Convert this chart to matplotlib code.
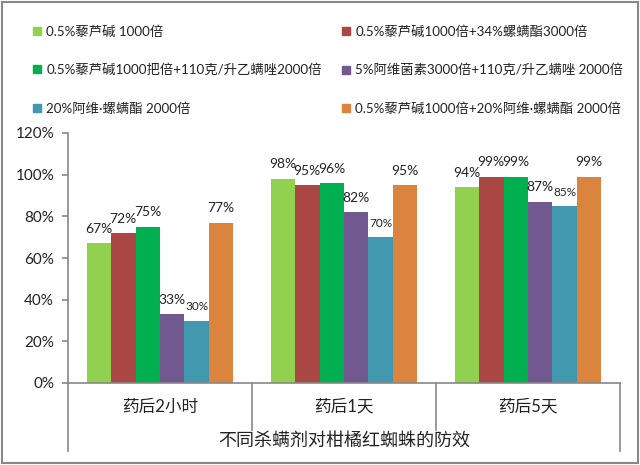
import matplotlib
matplotlib.use("Agg")
import matplotlib.pyplot as plt
from matplotlib.lines import Line2D
import numpy as np

FONTS = ['Lato', 'Noto Sans CJK SC', 'DejaVu Sans']
plt.rcParams['font.family'] = FONTS

categories = ['药后2小时', '药后1天', '药后5天']
series_names = ['0.5%藜芦碱 1000倍',
                '0.5%藜芦碱1000倍+34%螺螨酯3000倍',
                '0.5%藜芦碱1000把倍+110克/升乙螨唑2000倍',
                '5%阿维菌素3000倍+110克/升乙螨唑 2000倍',
                '20%阿维·螺螨酯 2000倍',
                '0.5%藜芦碱1000倍+20%阿维·螺螨酯 2000倍']
s1 = [67, 98, 94]
s2 = [72, 95, 99]
s3 = [75, 96, 99]
s4 = [33, 82, 87]
s5 = [30, 70, 85]
s6 = [77, 95, 99]
series = [s1, s2, s3, s4, s5, s6]
yticks = [0, 20, 40, 60, 80, 100, 120]
axis_title = '不同杀螨剂对柑橘红蜘蛛的防效'

colors = ['#92D050', '#AA4643', '#00B050', '#71588F', '#4198AF', '#DB843D']
small_labels = {(4, 0), (4, 1), (4, 2)}
TXT = '#222222'
GRID = '#888888'

fig = plt.figure(figsize=(6.4, 4.65), dpi=100)
ax = fig.add_axes([68/640, 1-383/465, (620-68)/640, (383-133)/465])

x = np.arange(len(categories))
w = 0.133
for i, (vals, c) in enumerate(zip(series, colors)):
    xs = x + (i - 2.5) * w
    bars = ax.bar(xs, vals, width=w, color=c, label=series_names[i], zorder=2)
    for j, (b, v) in enumerate(zip(bars, vals)):
        fs = 8.5 if (i, j) in small_labels else 10
        ax.annotate(f'{v}%', (b.get_x() + b.get_width()/2, v),
                    xytext=(0, 6), textcoords='offset points',
                    ha='center', va='bottom', fontsize=fs, color=TXT)

ax.set_xlim(-0.5, 2.5)
ax.set_ylim(0, 120)
ax.set_yticks(yticks)
ax.set_yticklabels([f'{t}%' for t in yticks], fontsize=11, color=TXT)
ax.set_xticks([])
for s in ['top', 'right']:
    ax.spines[s].set_visible(False)
for s in ['left', 'bottom']:
    ax.spines[s].set_color(GRID)
    ax.spines[s].set_linewidth(1.2)
ax.tick_params(axis='y', length=4, color=GRID, width=1.2, pad=6)

# category separators
trans = ax.get_xaxis_transform()
for xb in [-0.5, 0.5, 1.5, 2.5]:
    yb = -0.272 if xb in (-0.5, 2.5) else -0.188
    ax.plot([xb, xb], [0, yb], transform=trans, color=GRID, lw=1.2, clip_on=False)
for xi, cat in zip(x, categories):
    ax.text(xi, -0.095, cat, transform=trans, ha='center', va='center', fontsize=12, color=TXT)
ax.text(1, -0.23, axis_title, transform=trans, ha='center', va='center', fontsize=13, color=TXT)

# legend: two columns, row-major order
def mk(k):
    return Line2D([], [], marker='s', linestyle='none', markersize=6,
                  markerfacecolor=colors[k], markeredgecolor=colors[k])

for col, (x0, idx) in enumerate([(33, [0, 2, 4]), (342, [1, 3, 5])]):
    leg = fig.legend([mk(k) for k in idx], [series_names[k] for k in idx],
                     loc='upper left', bbox_to_anchor=(x0/640, 1-25/465),
                     ncol=1, frameon=False, fontsize=9.6, handlelength=0.6,
                     handletextpad=0.4, labelspacing=1.95, borderaxespad=0, borderpad=0)
    for t in leg.get_texts():
        t.set_color(TXT)

# figure border
fig.patches.append(plt.Rectangle((0.003, 0.004), 0.994, 0.992, transform=fig.transFigure,
                                 fill=False, edgecolor=GRID, lw=1.5))

fig.savefig('out.png', dpi=100)
